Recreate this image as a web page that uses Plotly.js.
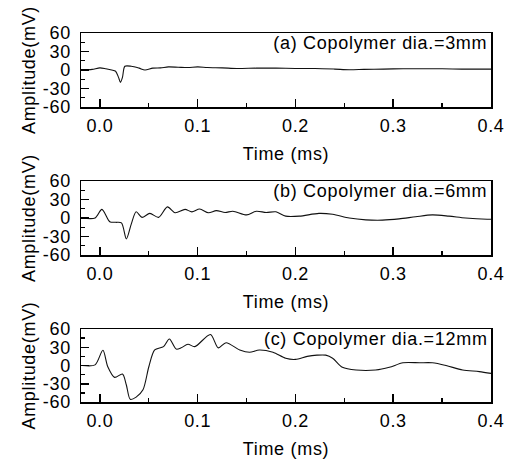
<!DOCTYPE html>
<html>
<head>
<meta charset="utf-8">
<script src="https://cdn.plot.ly/plotly-3.0.1.min.js"></script>
<style>
  html, body { margin: 0; padding: 0; background: #fff; }
  #chart { width: 515px; height: 459px; }
  .main-svg text { letter-spacing: 0.7px; }
</style>
</head>
<body>
<div id="chart"></div>
<script>
// ---- Data ----
const timeA = [-0.018, -0.008, 0.0, 0.006, 0.012, 0.016, 0.019, 0.021, 0.023, 0.0255, 0.032, 0.040, 0.046, 0.054, 0.062, 0.070, 0.080, 0.090, 0.100, 0.110, 0.125, 0.140, 0.160, 0.180, 0.200, 0.220, 0.240, 0.255, 0.270, 0.290, 0.310, 0.330, 0.350, 0.370, 0.400];
const ampA  = [0, 1, 3.5, 2, 0, -2, -12, -20, -12, 6, 6, 3, 0, 3, 3.5, 5, 4.5, 4, 5, 4, 3.5, 2.5, 3, 3, 2.5, 2.5, 1.5, 0.5, 1, 1.5, 2, 2, 2, 1.5, 1.5];

const timeB = [-0.018, -0.005, 0.002, 0.010, 0.016, 0.022, 0.027, 0.032, 0.037, 0.043, 0.051, 0.060, 0.069, 0.077, 0.087, 0.094, 0.102, 0.111, 0.119, 0.128, 0.136, 0.150, 0.160, 0.170, 0.180, 0.190, 0.204, 0.224, 0.238, 0.255, 0.272, 0.289, 0.306, 0.323, 0.340, 0.357, 0.374, 0.396, 0.400];
const ampB  = [0, 0, 14, -6, -7, -8, -34, -10, 10, 1, 7.5, 1, 18, 8.5, 14, 10, 14.5, 8.5, 12, 9, 11, 5, 11, 9, 10, 3, 3, 7.5, 6, 0, -3, -3.5, -1.5, 2, 5, 3, 0, -2, -2];

const timeC = [-0.018, -0.005, 0.003, 0.008, 0.015, 0.023, 0.027, 0.031, 0.037, 0.044, 0.050, 0.056, 0.065, 0.071, 0.078, 0.083, 0.090, 0.097, 0.113, 0.121, 0.129, 0.143, 0.153, 0.163, 0.177, 0.190, 0.200, 0.212, 0.222, 0.231, 0.238, 0.248, 0.262, 0.282, 0.296, 0.310, 0.327, 0.340, 0.354, 0.371, 0.388, 0.400];
const ampC  = [0, 1, 25, -2, -19.5, -14, -32, -55.6, -52, -40, -2, 25.5, 31, 43.6, 27, 29, 35, 31, 51, 29, 37.5, 25.5, 21.7, 25.5, 21.7, 11.8, 10, 15, 17, 17, 12, -3, -7.5, -7.5, -3, 4.5, 4.5, 4.5, 0, -7.5, -10, -13];

const panelLabels = ["(a) Copolymer dia.=3mm", "(b) Copolymer dia.=6mm", "(c) Copolymer dia.=12mm"];
const xTickVals = [0.0, 0.1, 0.2, 0.3, 0.4];
const xTickText = ["0.0", "0.1", "0.2", "0.3", "0.4"];
const yTickVals = [-60, -30, 0, 30, 60];
const yTickText = ["-60", "-30", "0", "30", "60"];
const xTitle = "Time (ms)";
const yTitle = "Amplitude(mV)";

// ---- Layout helpers ----
const H = 459;
const panelsPx = [[33, 107], [181, 255], [329, 402]];
const FONT = "Arial, 'Liberation Sans', Helvetica, sans-serif";

function lineTrace(x, y, xa, ya) {
  return {
    x: x, y: y, xaxis: xa, yaxis: ya,
    type: 'scatter', mode: 'lines',
    line: { color: '#111', width: 1.1, shape: 'spline', smoothing: 0.8 },
    hoverinfo: 'skip', showlegend: false
  };
}

const traces = [
  lineTrace(timeA, ampA, 'x', 'y'),
  lineTrace(timeB, ampB, 'x2', 'y2'),
  lineTrace(timeC, ampC, 'x3', 'y3')
];

function xAxis(anchor) {
  return {
    anchor: anchor, domain: [0, 1],
    range: [-0.0194, 0.4], autorange: false,
    tickmode: 'array', tickvals: xTickVals, ticktext: xTickText,
    ticks: 'inside', ticklen: 8, tickwidth: 1.5, tickcolor: '#000',
    minor: { ticks: 'inside', ticklen: 4, tickwidth: 1.3, tickcolor: '#000', dtick: 0.05, tick0: 0, showgrid: false },
    showline: true, linecolor: '#000', linewidth: 1.5, mirror: true,
    showgrid: false, zeroline: false,
    ticklabelstandoff: 2,
    tickfont: { family: FONT, size: 18, color: '#000' },
    title: { text: xTitle, font: { family: FONT, size: 18, color: '#000' }, standoff: 12 }
  };
}
function yAxis(anchor, px) {
  return {
    anchor: anchor,
    domain: [1 - px[1] / H, 1 - px[0] / H],
    range: [-60, 60], autorange: false,
    tickmode: 'array', tickvals: yTickVals, ticktext: yTickText,
    ticks: 'inside', ticklen: 8, tickwidth: 1.5, tickcolor: '#000',
    minor: { ticks: 'inside', ticklen: 4, tickwidth: 1.3, tickcolor: '#000', dtick: 15, tick0: 0, showgrid: false },
    showline: true, linecolor: '#000', linewidth: 1.5, mirror: true,
    showgrid: false, zeroline: false,
    ticklabelstandoff: 5,
    tickfont: { family: FONT, size: 18, color: '#000' },
    title: { text: yTitle, font: { family: FONT, size: 18, color: '#000' } }
  };
}

const annotations = panelLabels.map((t, i) => ({
  text: t,
  xref: (i === 0 ? 'x' : 'x' + (i + 1)) + ' domain',
  yref: (i === 0 ? 'y' : 'y' + (i + 1)) + ' domain',
  x: 1, y: 0.86, xanchor: 'right', yanchor: 'middle',
  xshift: -9, showarrow: false,
  font: { family: FONT, size: 18, color: '#000' }
}));

const layout = {
  width: 515, height: 459,
  margin: { l: 81, r: 24, t: 0, b: 0, pad: 0 },
  paper_bgcolor: '#fff', plot_bgcolor: '#fff',
  showlegend: false,
  xaxis: xAxis('y'), yaxis: yAxis('x', panelsPx[0]),
  xaxis2: xAxis('y2'), yaxis2: yAxis('x2', panelsPx[1]),
  xaxis3: xAxis('y3'), yaxis3: yAxis('x3', panelsPx[2]),
  annotations: annotations
};

Plotly.newPlot('chart', traces, layout, { staticPlot: true, displayModeBar: false });
</script>
</body>
</html>
